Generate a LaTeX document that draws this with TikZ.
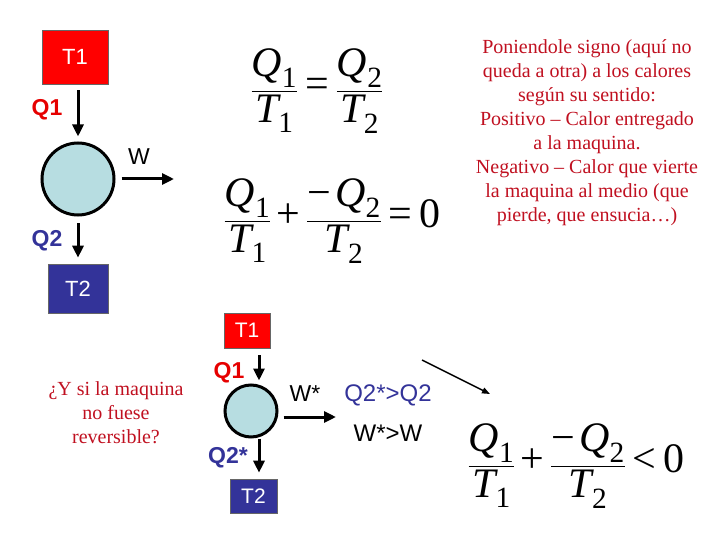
\documentclass[tikz,border=0pt]{standalone}
\usepackage{amsmath}
\usepackage{fontspec}
\setmainfont{Liberation Serif}
\newfontfamily\arial{Liberation Sans}
\usetikzlibrary{arrows.meta,calc}
\definecolor{hotred}{RGB}{255,0,0}
\definecolor{coldblue}{RGB}{51,51,153}
\definecolor{circfill}{RGB}{183,221,225}
\definecolor{textred}{RGB}{192,16,32}
\definecolor{labred}{RGB}{230,0,0}
\newcommand\vQ[1]{\textit{Q}_{\textrm{#1}}}
\newcommand\vT[1]{\textit{T}_{\textrm{#1}}}
\newcommand\opeq{\mathrel{\textrm{=}}}
\newcommand\opplus{\mathbin{\textrm{+}}}
\newcommand\oplt{\mathrel{\textrm{<}}}
\newcommand\opneg{\textrm{−}\,}
\tikzset{
  box/.style={draw=black!60, line width=0.6pt, text=white, inner sep=0pt, font=\arial\fontsize{22}{22}\selectfont},
  hotbox/.style={box, fill=hotred},
  coldbox/.style={box, fill=coldblue},
  engine/.style={circle, draw=black, line width=3pt, fill=circfill, inner sep=0pt},
  arr/.style={line width=3pt, -{Triangle[length=12pt,width=11pt]}},
  thinarr/.style={line width=1.5pt, -{Triangle[length=8pt,width=6pt]}},
  lab/.style={font=\arial\bfseries\fontsize{23}{23}\selectfont, inner sep=0pt},
  plainlab/.style={font=\arial\fontsize{23}{23}\selectfont, inner sep=0pt},
  eq/.style={font=\fontsize{42}{44}\selectfont, inner sep=0pt},
  note/.style={text=textred, align=center, font=\fontsize{20}{24}\selectfont, inner sep=0pt}
}
\begin{document}
\begin{tikzpicture}[x=1pt,y=-1pt]
\useasboundingbox (0,0) rectangle (720,540);
% upper reversible engine
\node[hotbox, minimum width=66pt, minimum height=54pt] (T1) at (75,57) {T1};
\node[engine, minimum size=72pt] (c1) at (78,179) {};
\node[coldbox, minimum width=60pt, minimum height=49pt] (T2) at (78,288.5) {T2};
\draw[arr] ($(c1.center|-T1.south)+(0,6)$) -- ($(c1.north)+(0,-5)$);
\coordinate (wend) at (174,179);
\draw[arr] ($(c1.east)+(6,0)$) -- (wend);
\draw[arr] ($(c1.south)+(0,7)$) -- ($(c1.center|-T2.north)+(0,-6)$);
\node[lab, text=labred] (q1) at (47,110) {Q1};
\node[lab, text=coldblue] (q2) at (47,241) {Q2};
\node[plainlab] (w) at (139,157) {W};
% equations
\node[eq] (e1) at (317,91) {$\dfrac{\vQ1}{\vT1}\opeq\dfrac{\vQ2}{\vT2}$};
\node[eq] (e2) at (332,221) {$\dfrac{\vQ1}{\vT1}\opplus\dfrac{\opneg\vQ2}{\vT2}\opeq\textrm{0}$};
\node[note] (n1) at (587,133) {Poniendole signo (aquí no\\queda a otra) a los calores\\según su sentido:\\Positivo – Calor entregado\\a la maquina.\\Negativo – Calor que vierte\\la maquina al medio (que\\pierde, que ensucia…)};
% lower irreversible engine
\node[note] (n2) at (116,413) {¿Y si la maquina\\no fuese\\reversible?};
\node[hotbox, minimum width=46pt, minimum height=35pt, font=\arial\fontsize{21}{21}\selectfont] (T1b) at (247,330.5) {T1};
\node[engine, minimum size=52pt] (c2) at (251,411) {};
\node[coldbox, minimum width=47pt, minimum height=34pt, font=\arial\fontsize{21}{21}\selectfont] (T2b) at (253.5,496) {T2};
\draw[arr] ($(c2.center|-T1b.south)+(8,7)$) -- ($(c2.north)+(8,-3)$);
\coordinate (wend2) at (336,417);
\draw[arr] ($(c2.east)+(5,6)$) -- (wend2);
\draw[arr] ($(c2.south)+(8,0)$) -- ($(c2.center|-T2b.north)+(8,-6)$);
\node[lab, text=labred] (q1b) at (229,373) {Q1};
\node[lab, text=coldblue] (q2b) at (228,458) {Q2*};
\node[plainlab] (wb) at (305,394) {W*};
\node[plainlab, text=coldblue, font=\arial\fontsize{24}{24}\selectfont] (cmp1) at (388,395) {Q2*>Q2};
\node[plainlab, font=\arial\fontsize{24}{24}\selectfont] (cmp2) at (388,433) {W*>W};
\coordinate (d1) at (422,360);
\coordinate (d2) at (490,394);
\draw[thinarr] (d1) -- (d2);
\node[eq] (e3) at (576,466) {$\dfrac{\vQ1}{\vT1}\opplus\dfrac{\opneg\vQ2}{\vT2}\oplt\textrm{0}$};
\end{tikzpicture}
\end{document}
